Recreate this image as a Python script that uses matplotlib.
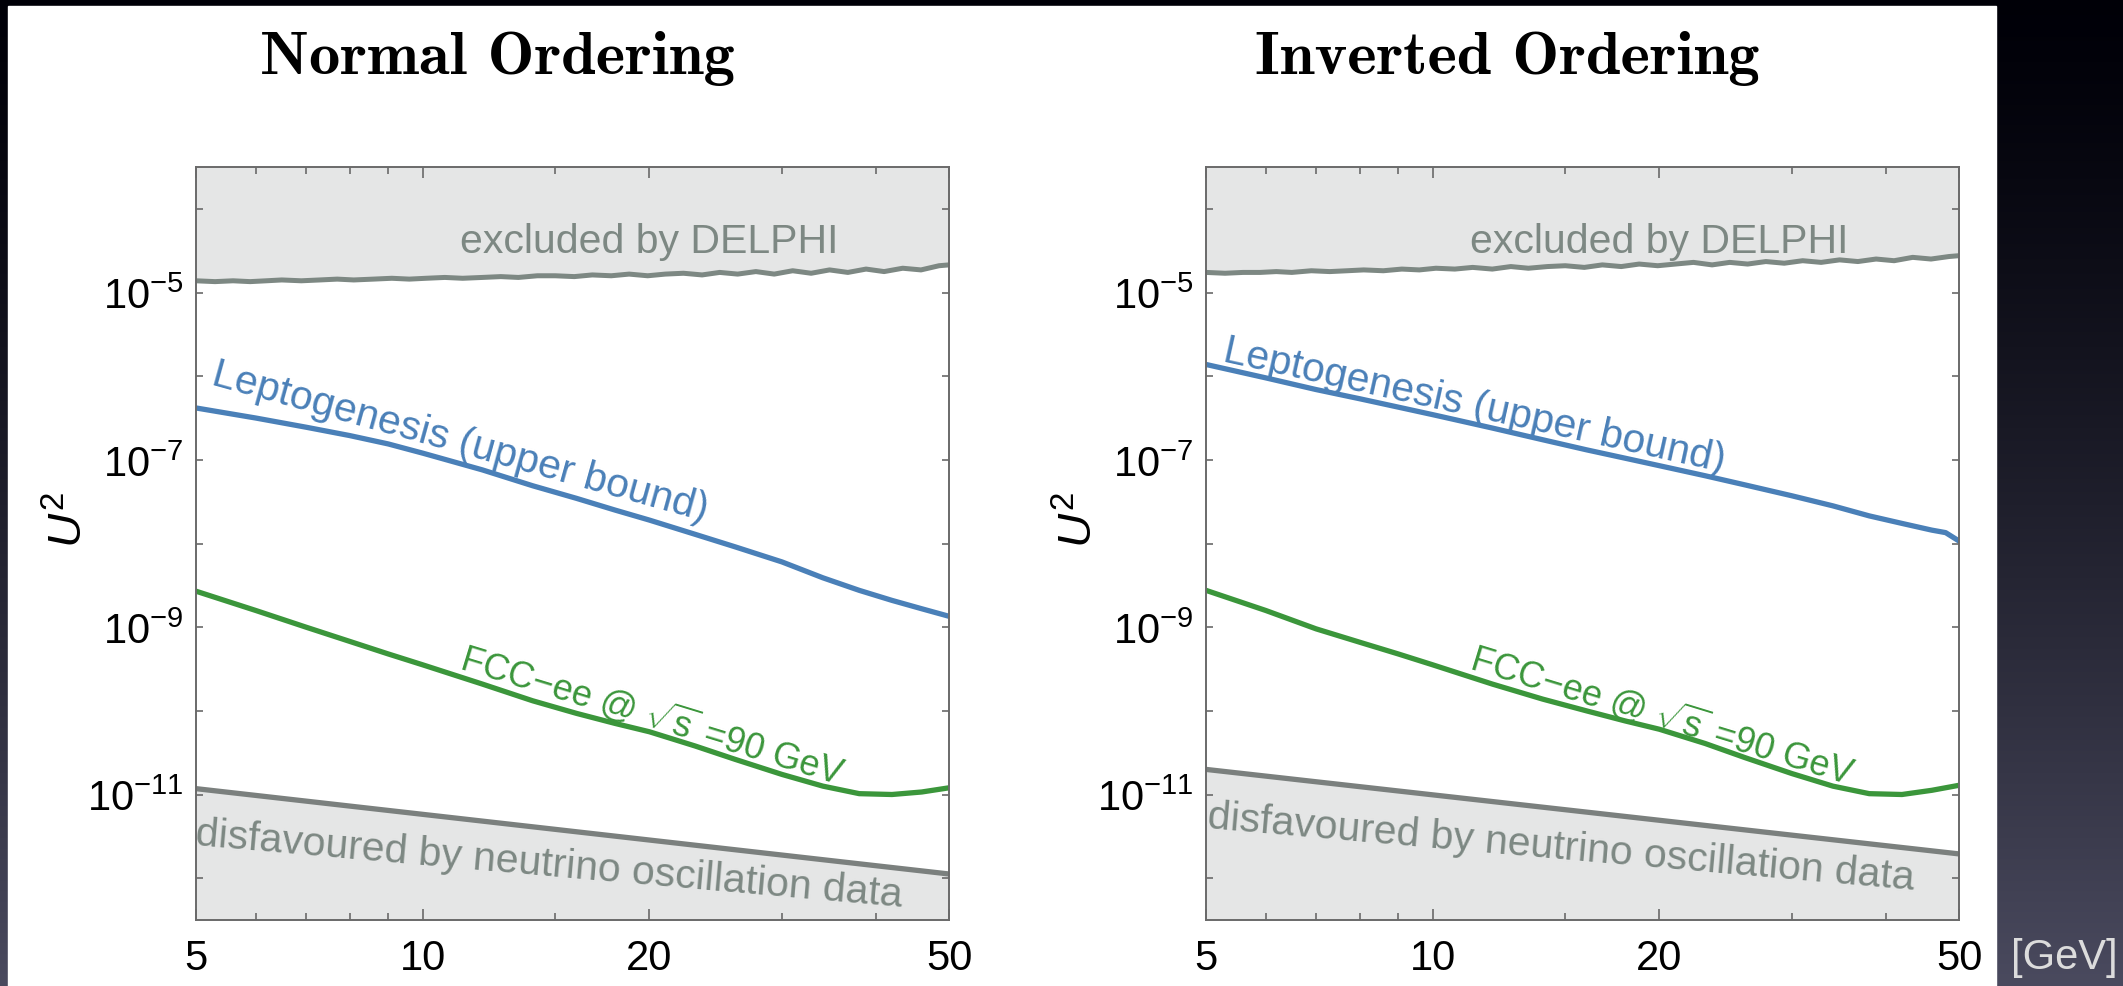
import numpy as np
import matplotlib
matplotlib.use("Agg")
import matplotlib.pyplot as plt
from matplotlib.patches import Rectangle
from matplotlib.ticker import FixedLocator, NullFormatter, NullLocator

plt.rcParams['font.family'] = ['Liberation Sans', 'DejaVu Sans']
plt.rcParams['mathtext.fontset'] = 'custom'
plt.rcParams['mathtext.rm'] = 'Liberation Sans'
plt.rcParams['mathtext.it'] = 'Liberation Sans:italic'

W, H = 2123, 987

###############################################################################
# data (masses in GeV, values are log10 U^2)

titles = ['Normal Ordering', 'Inverted Ordering']

m_curve = [5, 6, 7, 8, 9, 10, 12, 14, 16, 18, 20, 23, 26, 30, 34, 38, 42, 46, 50]

lepto_no = [-6.38, -6.50, -6.61, -6.71, -6.81, -6.92, -7.12, -7.31, -7.46, -7.60,
            -7.72, -7.89, -8.04, -8.22, -8.41, -8.56, -8.68, -8.78, -8.87]
fcc_no = [-8.57, -8.80, -9.00, -9.17, -9.32, -9.45, -9.68, -9.88, -10.03, -10.15,
          -10.25, -10.42, -10.58, -10.76, -10.90, -10.99, -11.00, -10.97, -10.92]

m_lepto_io = [5, 6, 7, 8, 9, 10, 12, 14, 16, 18, 20, 23, 26, 30, 34, 38, 42, 46, 48, 50]
lepto_io = [-5.86, -6.02, -6.16, -6.27, -6.37, -6.46, -6.62, -6.76, -6.88, -6.98,
            -7.07, -7.19, -7.30, -7.43, -7.55, -7.67, -7.76, -7.84, -7.87, -7.97]
fcc_io = [-8.56, -8.80, -9.02, -9.18, -9.32, -9.45, -9.68, -9.86, -10.00, -10.12,
          -10.22, -10.39, -10.56, -10.75, -10.90, -10.99, -11.00, -10.95, -10.89]

m_osc = [5, 50]
osc_no = [-10.93, -11.95]
osc_io = [-10.70, -11.71]

m_delphi = [5.0, 5.3, 5.6, 5.9, 6.2, 6.5, 6.9, 7.3, 7.7, 8.1, 8.6, 9.1, 9.6, 10.1,
            10.7, 11.3, 12.0, 12.7, 13.4, 14.2, 15.0, 15.9, 16.8, 17.8, 18.8, 19.9,
            21.0, 22.2, 23.5, 24.8, 26.2, 27.7, 29.3, 31.0, 32.8, 34.7, 36.7, 38.8,
            41.0, 43.4, 45.9, 48.5, 50.0]
delphi_no = [-4.86, -4.87, -4.86, -4.87, -4.86, -4.85, -4.86, -4.85, -4.84, -4.85,
             -4.84, -4.83, -4.84, -4.83, -4.82, -4.83, -4.82, -4.81, -4.82, -4.80,
             -4.80, -4.81, -4.79, -4.80, -4.78, -4.80, -4.78, -4.77, -4.79, -4.76,
             -4.78, -4.75, -4.78, -4.74, -4.77, -4.73, -4.76, -4.72, -4.75, -4.71,
             -4.73, -4.68, -4.67]
delphi_io = [-4.76, -4.77, -4.76, -4.76, -4.75, -4.76, -4.74, -4.75, -4.74, -4.73,
             -4.74, -4.72, -4.73, -4.71, -4.72, -4.70, -4.72, -4.69, -4.71, -4.69,
             -4.68, -4.70, -4.67, -4.69, -4.66, -4.68, -4.66, -4.64, -4.67, -4.64,
             -4.66, -4.63, -4.65, -4.62, -4.64, -4.61, -4.63, -4.60, -4.62, -4.58,
             -4.60, -4.57, -4.56]

x_major = [5, 10, 20, 50]
x_minor = [6, 7, 8, 9, 15, 30, 40]
y_exps = list(range(-12, -3))

###############################################################################

c_fill = '#e5e6e6'
c_delphi = '#7d8883'
c_osc = '#7b807e'
c_blue = '#4a80b8'
c_green = '#3b963b'
c_spine = '#6a6a6a'

fig = plt.figure(figsize=(W / 100, H / 100), dpi=100)

# slide background and white panel
bg = fig.add_axes([0, 0, 1, 1], zorder=-1)
t = np.linspace(0, 1, 256)[:, None]
top = np.array([0.0, 0.0, 0.03])
bot = np.array([0.29, 0.29, 0.37])
grad = (top + (bot - top) * t[..., None] ** 1.3) * np.ones((256, 2, 3))
bg.imshow(grad, extent=[0, W, 0, H], aspect='auto', interpolation='bilinear')
bg.add_patch(Rectangle((8, 0), 1996 - 8, H - 7, color='white'))
bg.set_xlim(0, W)
bg.set_ylim(0, H)
bg.axis('off')

panels = [
    dict(left=196, lepto_m=m_curve, lepto=lepto_no, fcc=fcc_no, osc=osc_no,
         delphi=delphi_no, lep_xy=(11.2, -6.78), lep_rot=-15.5,
         osc_xy=(14.7, -11.83), title_x=497),
    dict(left=1206, lepto_m=m_lepto_io, lepto=lepto_io, fcc=fcc_io, osc=osc_io,
         delphi=delphi_io, lep_xy=(11.36, -6.34), lep_rot=-12.5,
         osc_xy=(14.8, -11.63), title_x=1507),
]

ylo, yhi = 10 ** -12.5, 10 ** -3.5

for title, p in zip(titles, panels):
    ax = fig.add_axes([p['left'] / W, 1 - 921 / H, 753 / W, 753 / H])
    ax.set_xscale('log')
    ax.set_yscale('log')

    d = 10.0 ** np.array(p['delphi'])
    ax.fill_between(m_delphi, d, yhi, color=c_fill, lw=0, zorder=1)
    ax.plot(m_delphi, d, color=c_delphi, lw=3.6, zorder=2)

    o = 10.0 ** np.array(p['osc'])
    ax.fill_between(m_osc, ylo, o, color=c_fill, lw=0, zorder=1)
    ax.plot(m_osc, o, color=c_osc, lw=3.8, zorder=2)

    ax.plot(p['lepto_m'], 10.0 ** np.array(p['lepto']), color=c_blue, lw=3.8, zorder=2)
    ax.plot(m_curve, 10.0 ** np.array(p['fcc']), color=c_green, lw=3.8, zorder=2)

    ax.set_xlim(5, 50)
    ax.set_ylim(ylo, yhi)

    ax.text(20, 10 ** -4.39, 'excluded by DELPHI', color=c_delphi, fontsize=29.5,
            ha='center', va='center', zorder=3)
    ax.text(p['lep_xy'][0], 10 ** p['lep_xy'][1], 'Leptogenesis (upper bound)',
            color=c_blue, fontsize=29.5, ha='center', va='center',
            rotation=p['lep_rot'], rotation_mode='anchor', zorder=3)
    ax.text(20.2, 10 ** -10.03, r'FCC$-$ee @ $\sqrt{\mathrm{s}}$ =90 GeV', color=c_green,
            fontsize=26, ha='center', va='center', rotation=-17,
            rotation_mode='anchor', zorder=3)
    ax.text(p['osc_xy'][0], 10 ** p['osc_xy'][1],
            'disfavoured by neutrino oscillation data', color=c_delphi,
            fontsize=29.5, ha='center', va='center', rotation=-5,
            rotation_mode='anchor', zorder=3, clip_on=True)

    ax.xaxis.set_major_locator(FixedLocator(x_major))
    ax.set_xticklabels([str(v) for v in x_major])
    ax.xaxis.set_minor_locator(FixedLocator(x_minor))
    ax.xaxis.set_minor_formatter(NullFormatter())
    ax.set_yticks([10.0 ** e for e in y_exps])
    ax.set_yticklabels([r'$10^{%d}$' % e if e % 2 else '' for e in y_exps])
    ax.yaxis.set_minor_locator(NullLocator())

    ax.tick_params(which='both', direction='in', top=True, right=True,
                   color=c_spine, width=1.2, labelsize=30)
    ax.tick_params(axis='x', which='major', length=8, pad=13)
    ax.tick_params(axis='x', which='minor', length=5)
    ax.tick_params(axis='y', which='major', length=5, pad=9)
    for s in ax.spines.values():
        s.set_color(c_spine)
        s.set_linewidth(1.4)

    ax.text(-0.167, 0.533, r'$U^2$', transform=ax.transAxes, rotation=90,
            ha='center', va='center', fontsize=34)

    fig.text(p['title_x'] / W, 1 - 58 / H, title, family='cmb10', fontsize=45,
             ha='center', va='center')

fig.text(2064 / W, 1 - 958 / H, '[GeV]', color='#dcdcdc', fontsize=30,
         family=['Liberation Sans', 'DejaVu Sans'], ha='center', va='center')

fig.savefig('out.png', dpi=100)
